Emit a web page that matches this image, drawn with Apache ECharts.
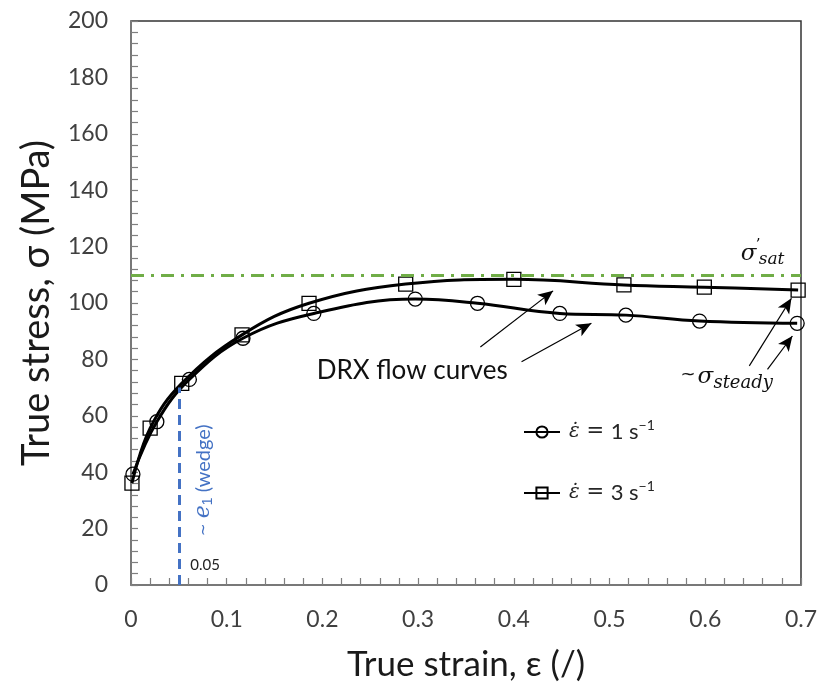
<!DOCTYPE html>
<html>
<head>
<meta charset="utf-8">
<script src="https://cdn.jsdelivr.net/npm/echarts@6/dist/echarts.min.js"></script>
<style>
  html, body { margin: 0; padding: 0; background: #fff; }
  #chart { width: 818px; height: 684px; }
</style>
</head>
<body>
<div id="chart"></div>
<script>
// strain rate 1 s^-1 (circles)
const strain1 = [0.002, 0.027, 0.061, 0.117, 0.191, 0.297, 0.362, 0.448, 0.517, 0.594, 0.696]
const stress1 = [39.3, 57.9, 72.9, 87.5, 96.3, 101.4, 99.9, 96.3, 95.7, 93.6, 92.8]
// strain rate 3 s^-1 (squares)
const strain3 = [0.001, 0.020, 0.053, 0.116, 0.186, 0.287, 0.400, 0.515, 0.599, 0.697]
const stress3 = [36.1, 55.6, 71.5, 88.7, 99.9, 106.7, 108.4, 106.4, 105.6, 104.6]

const seriesNames = ['rate1', 'rate3']
const legendLabels = {
  rate1: '{i|ε̇}{m| = }1 s{sup|−1}',
  rate3: '{i|ε̇}{m| = }3 s{sup|−1}'
}

const satStress = 110      // sigma'_sat level
const wedgeStrain = 0.05   // e1 (wedge)
const wedgeTop = 70

// annotation arrows [from, to] in data units
const arrows = [
  [[0.365, 84.4], [0.441, 104.3]],
  [[0.408, 79.2], [0.481, 92.8]],
  [[0.646, 77.7], [0.690, 101.7]],
  [[0.665, 76.5], [0.691, 88.3]]
]

const xTicks = { min: 0, max: 0.7, interval: 0.1 }
const yTicks = { min: 0, max: 200, interval: 20 }

const chart = echarts.init(document.getElementById('chart'))

const axisCommon = {
  axisLine: { show: true, lineStyle: { color: '#7f7f7f', width: 1.5 } },
  axisTick: { show: true, inside: true, length: 7, lineStyle: { color: '#7f7f7f', width: 1.2 } },
  minorTick: { show: true, splitNumber: 5, length: 7, lineStyle: { color: '#7f7f7f', width: 1.2 } },
  splitLine: { show: false },
  axisLabel: { fontFamily: 'Lato', fontSize: 23, color: '#404040' },
  nameLocation: 'middle',
  nameTextStyle: { fontFamily: 'Lato', color: '#1a1a1a' }
}

const lineSeries = (name, xs, ys, symbol) => ({
  name,
  type: 'line',
  data: xs.map((x, i) => [x, ys[i]]),
  smooth: 0.4,
  symbol,
  symbolSize: 14,
  showAllSymbol: true,
  lineStyle: { color: '#000', width: 3 },
  itemStyle: { color: 'rgba(0,0,0,0)', borderColor: '#000', borderWidth: 1.3 },
  z: 3
})

const option = {
  animation: false,
  backgroundColor: '#fff',
  grid: {
    left: 131, right: 17, top: 21, bottom: 99,
    containLabel: false, outerBoundsMode: 'none',
    show: true, borderColor: '#333', borderWidth: 1.5, backgroundColor: 'transparent'
  },
  xAxis: {
    type: 'value', ...xTicks,
    ...axisCommon,
    axisLabel: { ...axisCommon.axisLabel, margin: 23 },
    name: 'True strain, ε (/)',
    nameGap: 62,
    nameTextStyle: { ...axisCommon.nameTextStyle, fontSize: 35 }
  },
  yAxis: {
    type: 'value', ...yTicks,
    ...axisCommon,
    axisLabel: { ...axisCommon.axisLabel, margin: 23 },
    name: 'True stress, σ (MPa)',
    nameGap: 75,
    nameTextStyle: { ...axisCommon.nameTextStyle, fontSize: 38 }
  },
  legend: {
    data: seriesNames,
    orient: 'vertical',
    left: 518,
    top: 413,
    itemWidth: 36,
    itemHeight: 14,
    itemGap: 33,
    formatter: name => legendLabels[name],
    textStyle: {
      fontFamily: 'Lato', fontSize: 22, color: '#262626', padding: [0, 0, 0, 4], lineHeight: 28,
      rich: {
        i: { fontFamily: 'DejaVu Serif', fontStyle: 'italic', fontSize: 20, color: '#262626', lineHeight: 28 },
        m: { fontFamily: 'DejaVu Sans', fontSize: 21, color: '#262626', lineHeight: 28 },
        sup: { fontFamily: 'Lato', fontSize: 14, color: '#262626', verticalAlign: 'top', lineHeight: 18 }
      }
    }
  },
  series: [
    lineSeries('rate1', strain1, stress1, 'circle'),
    lineSeries('rate3', strain3, stress3, 'rect'),
    {
      name: 'annot',
      type: 'line',
      data: [],
      silent: true,
      markLine: {
        silent: true,
        animation: false,
        label: { show: false },
        data: [
          [
            { coord: [xTicks.min, satStress], symbol: 'none', lineStyle: { color: '#70AD47', width: 3, type: [13, 7, 3, 7] } },
            { coord: [xTicks.max, satStress], symbol: 'none' }
          ],
          [
            { coord: [wedgeStrain, 0], symbol: 'none', lineStyle: { color: '#4472C4', width: 3, type: [10, 6] } },
            { coord: [wedgeStrain, wedgeTop], symbol: 'none' }
          ],
          ...arrows.map(([a, b]) => [
            { coord: a, symbol: 'none', lineStyle: { color: '#000', width: 1.2, type: 'solid' } },
            { coord: b, symbol: 'arrow', symbolSize: [10, 15] }
          ])
        ]
      }
    }
  ]
}

chart.setOption(option)

// text annotations placed from data coordinates
const px = (x, y) => chart.convertToPixel({ gridIndex: 0 }, [x, y])
const serif = '"DejaVu Serif"'
const drx = px(0.194, 76.2)
const steady = px(0.574, 73.8)
const sat = px(0.637, 117.4)
const wedge = px(0.076, 37.2)
const wedgeVal = px(0.062, 7)

chart.setOption({
  graphic: [
    { type: 'text', x: drx[0], y: drx[1], style: { text: 'DRX flow curves', font: '26px Lato', fill: '#111', textVerticalAlign: 'middle' } },
    { type: 'text', x: steady[0], y: steady[1] - 2, style: { text: '~', font: '18px "DejaVu Sans"', fill: '#111', textVerticalAlign: 'middle' } },
    { type: 'text', x: steady[0] + 17, y: steady[1], style: { text: 'σ', font: 'italic 23px ' + serif, fill: '#111', textVerticalAlign: 'middle' } },
    { type: 'text', x: steady[0] + 33, y: steady[1] + 6, style: { text: 'steady', font: 'italic 18px ' + serif, fill: '#111', textVerticalAlign: 'middle' } },
    { type: 'text', x: sat[0], y: sat[1], style: { text: 'σ', font: 'italic 23px ' + serif, fill: '#111', textVerticalAlign: 'middle' } },
    { type: 'text', x: sat[0] + 15, y: sat[1] - 9, style: { text: '\u2019', font: '15px ' + serif, fill: '#111', textVerticalAlign: 'middle' } },
    { type: 'text', x: sat[0] + 18, y: sat[1] + 6, style: { text: 'sat', font: 'italic 17px ' + serif, fill: '#111', textVerticalAlign: 'middle' } },
    {
      type: 'text', x: wedge[0], y: wedge[1], rotation: Math.PI / 2,
      style: {
        text: '{t|~} {i|e}{s|1} (wedge)', fill: '#4472C4', font: '20px Lato', textAlign: 'center', textVerticalAlign: 'middle',
        rich: {
          t: { fontFamily: '"DejaVu Sans"', fontSize: 15, fill: '#4472C4' },
          i: { fontFamily: serif, fontStyle: 'italic', fontSize: 22, fill: '#4472C4' },
          s: { fontSize: 14, fill: '#4472C4', padding: [9, 0, 0, 0] }
        }
      }
    },
    { type: 'text', x: wedgeVal[0], y: wedgeVal[1], style: { text: '0.05', font: '15px Lato', fill: '#222', textVerticalAlign: 'middle' } }
  ]
})
</script>
</body>
</html>
